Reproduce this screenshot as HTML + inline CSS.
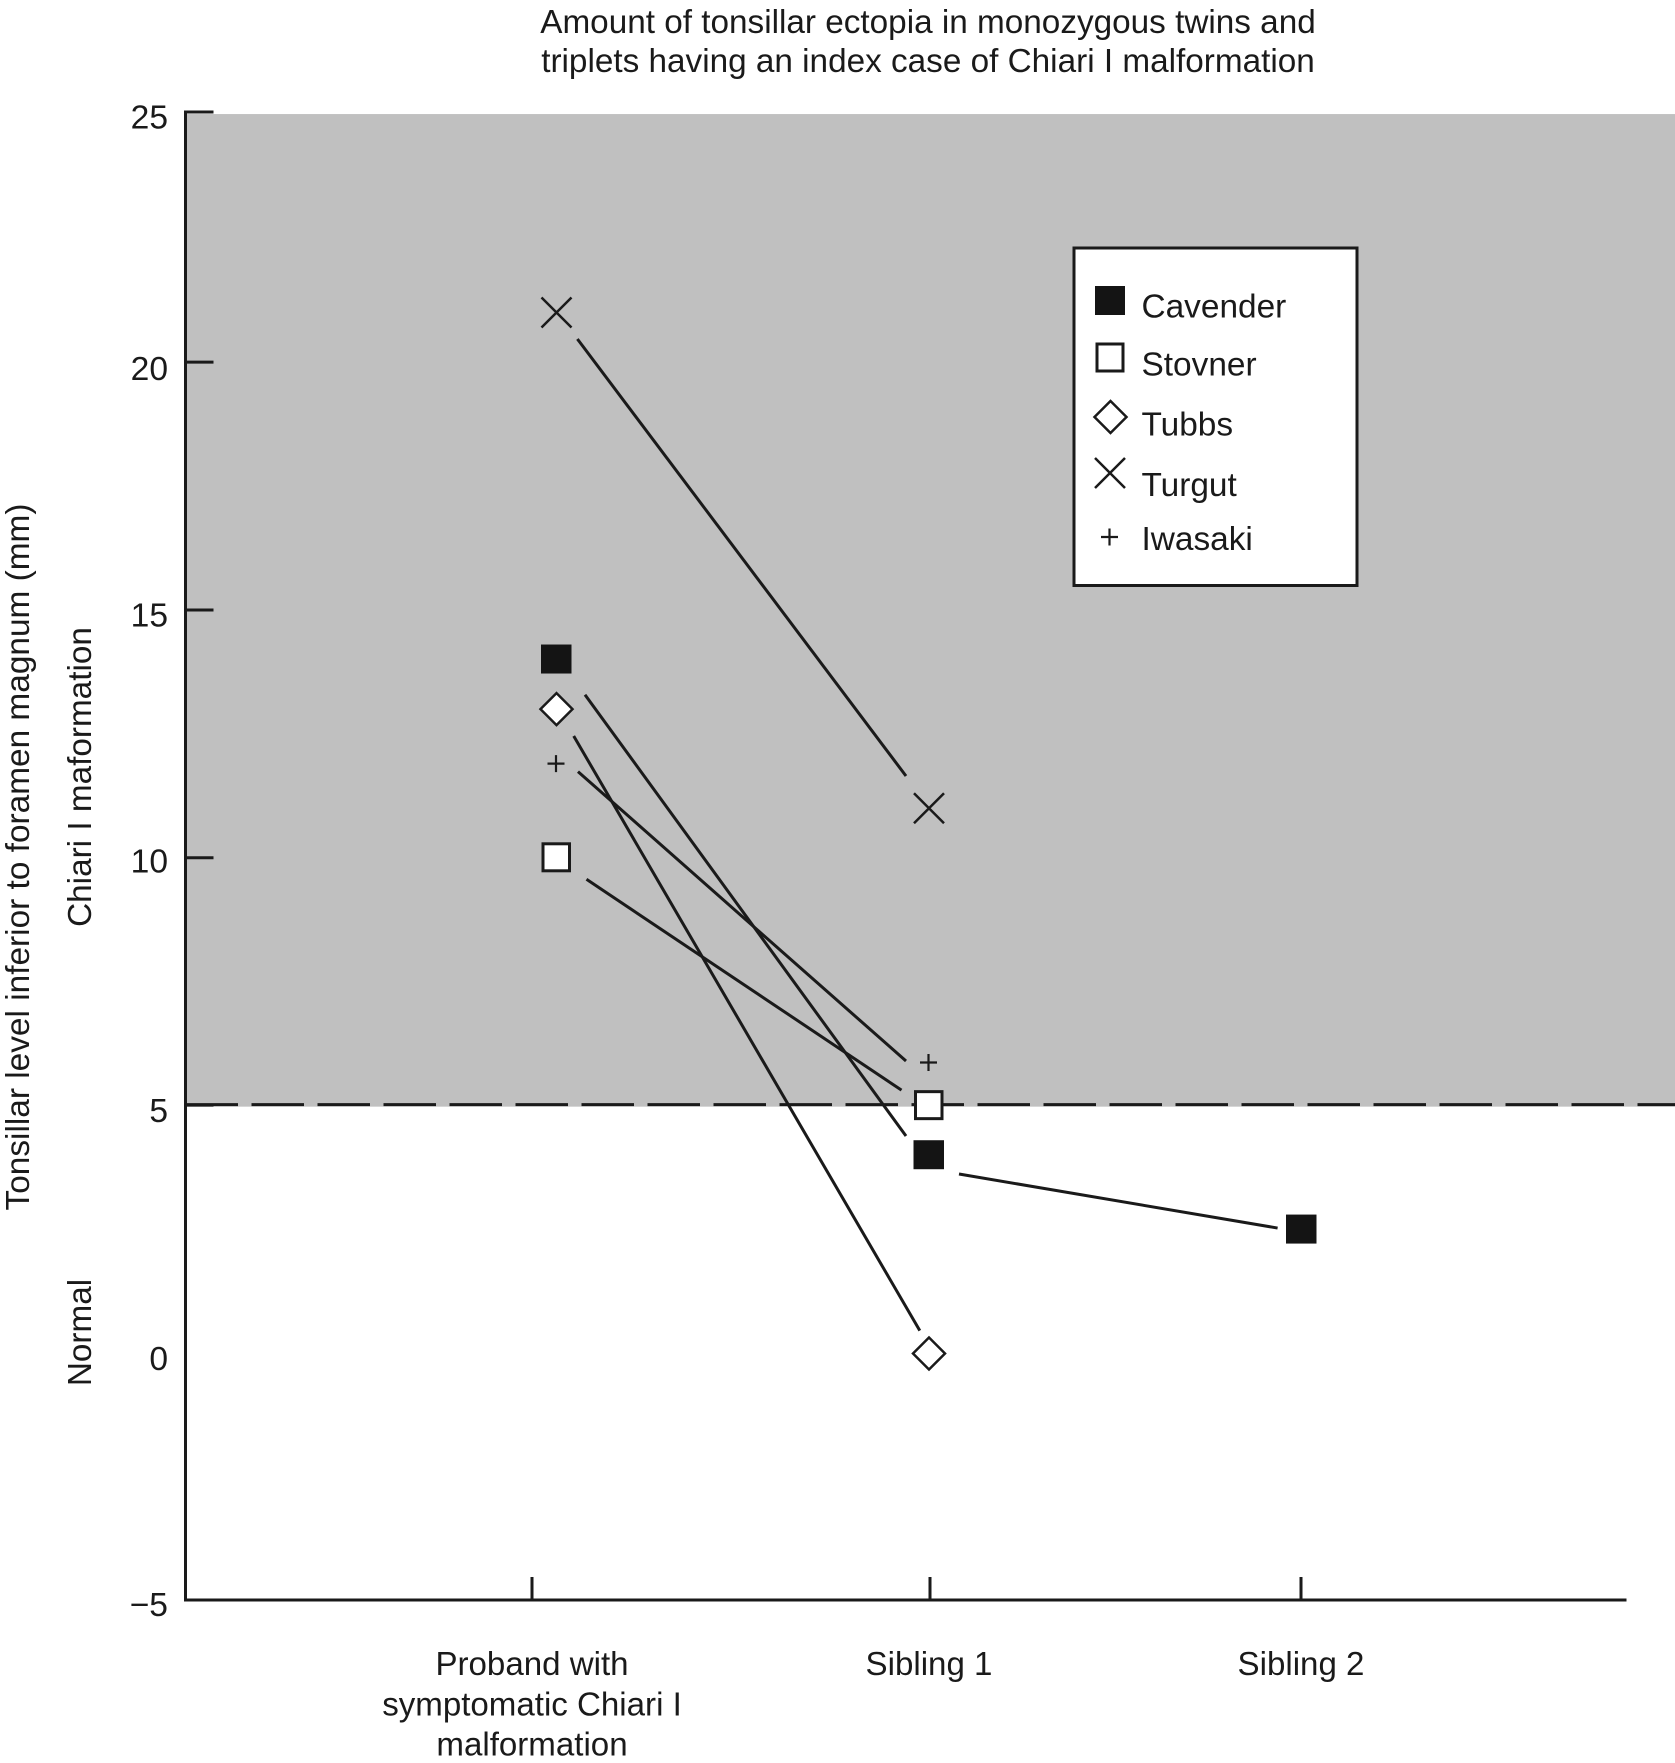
<!DOCTYPE html>
<html lang="en">
<head>
<meta charset="utf-8">
<title>Amount of tonsillar ectopia</title>
<style>
html,body{margin:0;padding:0;background:#fff;width:1675px;height:1763px;overflow:hidden}
svg{display:block}
text{font-family:"Liberation Sans",Arial,sans-serif;fill:#1a1a1a}
</style>
</head>
<body>
<svg id="chart" xmlns="http://www.w3.org/2000/svg" width="1675" height="1763" viewBox="0 0 1675 1763">
  <rect x="0" y="0" width="1675" height="1763" fill="#fff"/>
  <g font-size="33.3" text-anchor="middle">
    <text x="928" y="33">Amount of tonsillar ectopia in monozygous twins and</text>
    <text x="928" y="72">triplets having an index case of Chiari I malformation</text>
  </g>
  <text font-size="33.4" text-anchor="middle" transform="translate(29,857) rotate(-90)">Tonsillar level inferior to foramen magnum (mm)</text>
  <text font-size="33.3" text-anchor="middle" transform="translate(91,777) rotate(-90)">Chiari I maformation</text>
  <text font-size="33.3" text-anchor="middle" transform="translate(91,1332.5) rotate(-90)">Normal</text>
  <g id="plot"></g>
  <g>
    <rect x="1074" y="248" width="283" height="337.5" fill="#fff" stroke="#1a1a1a" stroke-width="3"/>
    <rect x="1095" y="286" width="30" height="29" fill="#141414"/>
    <rect x="1097" y="344" width="26" height="27" fill="#fff" stroke="#1a1a1a" stroke-width="3"/>
    <path d="M1110.5 401 L1126.5 417 L1110.5 433 L1094.5 417 Z" fill="#fff" stroke="#1a1a1a" stroke-width="2.5"/>
    <path d="M1095 458 L1125 488 M1125 458 L1095 488" fill="none" stroke="#1a1a1a" stroke-width="2.5"/>
    <path d="M1101 537 L1118 537 M1109.5 528.5 L1109.5 545.5" fill="none" stroke="#1a1a1a" stroke-width="2.2"/>
    <g font-size="33.4">
      <text x="1141.5" y="317.5">Cavender</text>
      <text x="1141.5" y="375.5">Stovner</text>
      <text x="1141.5" y="435.5">Tubbs</text>
      <text x="1141.5" y="496">Turgut</text>
      <text x="1141.5" y="550">Iwasaki</text>
    </g>
  </g>
</svg>
<script>
// ---- chart data ----
const categories = ["Proband", "Sibling 1", "Sibling 2"];
const yTickLabels = [25, 20, 15, 10, 5, 0, -5];
const yTickMarks = [25, 20, 15, 10, 5];
const cavender = [14, 4, 2.5];
const stovner = [10, 5];
const tubbs = [13, 0];
const turgut = [21, 11];
const iwasaki = [11.9, 5.87];

// ---- axis functions ----
const NS = "http://www.w3.org/2000/svg";
const plot = document.getElementById("plot");
const INK = "#1a1a1a";
const axisLeft = 185.5, axisBottom = 1600, axisRight = 1626.5, pageRight = 1675;
function yScale(v) { return 1353.5 - 49.57 * v; }
function xScale(i) { return [556, 928.5, 1301][i]; }
function tickX(i) { return [532, 930, 1301][i]; }
function labelX(i) { return [532, 929, 1301][i]; }

function make(tag, attrs, parent) {
  const el = document.createElementNS(NS, tag);
  for (const k in attrs) el.setAttribute(k, attrs[k]);
  (parent || plot).appendChild(el);
  return el;
}

// ---- shaded Chiari region ----
const region = make("rect", { x: axisLeft, y: yScale(25) - 0.2, width: pageRight - axisLeft, height: yScale(5) - yScale(25) + 1.2, fill: "#c0c0c0" });



// ---- threshold ----
const threshold = make("line", { x1: axisLeft, x2: pageRight, y1: yScale(5) - 1, y2: yScale(5) - 1, stroke: INK, "stroke-width": 3, "stroke-dasharray": "52.5 13.5" });



// ---- axes ----
const yAxis = make("line", { x1: axisLeft, x2: axisLeft, y1: yScale(25) - 3.8, y2: axisBottom + 1.5, stroke: INK, "stroke-width": 3 });



const xAxis = make("line", { x1: axisLeft, x2: axisRight, y1: axisBottom, y2: axisBottom, stroke: INK, "stroke-width": 3 });



yTickMarks.forEach(function (v) {
  const nudge = v === 25 ? -2.3 : (v === 5 ? -0.5 : 0);
  const t = make("line", { x1: axisLeft, x2: 213.5, y1: yScale(v) + nudge, y2: yScale(v) + nudge, stroke: INK, "stroke-width": 3 });
  
  
});

yTickLabels.forEach(function (v) {
  const nudge = v === 25 ? -2 : (v === -5 ? -1.5 : (v === 20 ? 2 : (v === 10 ? -1.5 : 0.5)));
  const t = make("text", { x: 168, y: yScale(v) + 16 + nudge, "font-size": 33.6, "text-anchor": "end" });
  t.textContent = v < 0 ? "\u2212" + Math.abs(v) : String(v);
  
  
});

categories.forEach(function (c, i) {
  const t = make("line", { x1: tickX(i), x2: tickX(i), y1: axisBottom - 23, y2: axisBottom, stroke: INK, "stroke-width": 3 });
  
  
});

const xLabelLines = [["Proband with", "symptomatic Chiari I", "malformation"], ["Sibling 1"], ["Sibling 2"]];
xLabelLines.forEach(function (lines, i) {
  lines.forEach(function (s, j) {
    const t = make("text", { x: labelX(i), y: [1675, 1715.5, 1755.5][j], "font-size": 33.1, "text-anchor": "middle" });
    t.textContent = s;
    
    
  });
});

// ---- connector lines: trimmed away from the markers ----
function connector(values, i, sx, sy, ex, ey, name) {
  const l = make("line", {
    x1: xScale(i) + sx, y1: yScale(values[i]) + sy,
    x2: xScale(i + 1) + ex, y2: yScale(values[i + 1]) + ey,
    stroke: INK, "stroke-width": 3
  });
  
  
}
connector(turgut, 0, 21.4, 26.5, -22.5, -32.2, 'turgut-line');
connector(cavender, 0, 29, 35.2, -22.5, -19.2, 'cavender-line-1');
connector(cavender, 1, 30.5, 18.8, -23.4, -1.5, 'cavender-line-2');
connector(tubbs, 0, 17.7, 26.9, -8.7, -22.9, 'tubbs-line');
connector(iwasaki, 0, 22, 8, -22.5, -1.5, 'iwasaki-line');
connector(stovner, 0, 30.5, 21.5, -27, -15.5, 'stovner-line');

// ---- markers ----
function filledSquare(i, v) {
  const m = make("rect", { x: xScale(i) - 15, y: yScale(v) - 15, width: 30.5, height: 29, fill: "#141414" });
  
  
}
function openSquare(i, v) {
  const m = make("rect", { x: xScale(i) - 13, y: yScale(v) - 14, width: 26.5, height: 27, fill: "#fff", stroke: INK, "stroke-width": 3 });
  
  
}
function diamond(i, v) {
  const x = xScale(i) + 0.5, y = yScale(v), r = 16;
  const m = make("path", { d: "M" + x + " " + (y - r) + " L" + (x + r) + " " + y + " L" + x + " " + (y + r) + " L" + (x - r) + " " + y + " Z", fill: "#fff", stroke: INK, "stroke-width": 2.5 });
  
  
}
function cross(i, v) {
  const x = xScale(i) + 0.5, y = yScale(v), r = 15;
  const m = make("path", { d: "M" + (x - r) + " " + (y - r) + " L" + (x + r) + " " + (y + r) + " M" + (x + r) + " " + (y - r) + " L" + (x - r) + " " + (y + r), fill: "none", stroke: INK, "stroke-width": 2.5 });
  
  
}
function plus(i, v) {
  const x = xScale(i), y = yScale(v), r = 8.5;
  const m = make("path", { d: "M" + (x - r) + " " + y + " L" + (x + r) + " " + y + " M" + x + " " + (y - r) + " L" + x + " " + (y + r), fill: "none", stroke: INK, "stroke-width": 2.2 });
  
  
}
cavender.forEach(function (v, i) { filledSquare(i, v); });
stovner.forEach(function (v, i) { openSquare(i, v); });
tubbs.forEach(function (v, i) { diamond(i, v); });
turgut.forEach(function (v, i) { cross(i, v); });
iwasaki.forEach(function (v, i) { plus(i, v); });
</script>
</body>
</html>
